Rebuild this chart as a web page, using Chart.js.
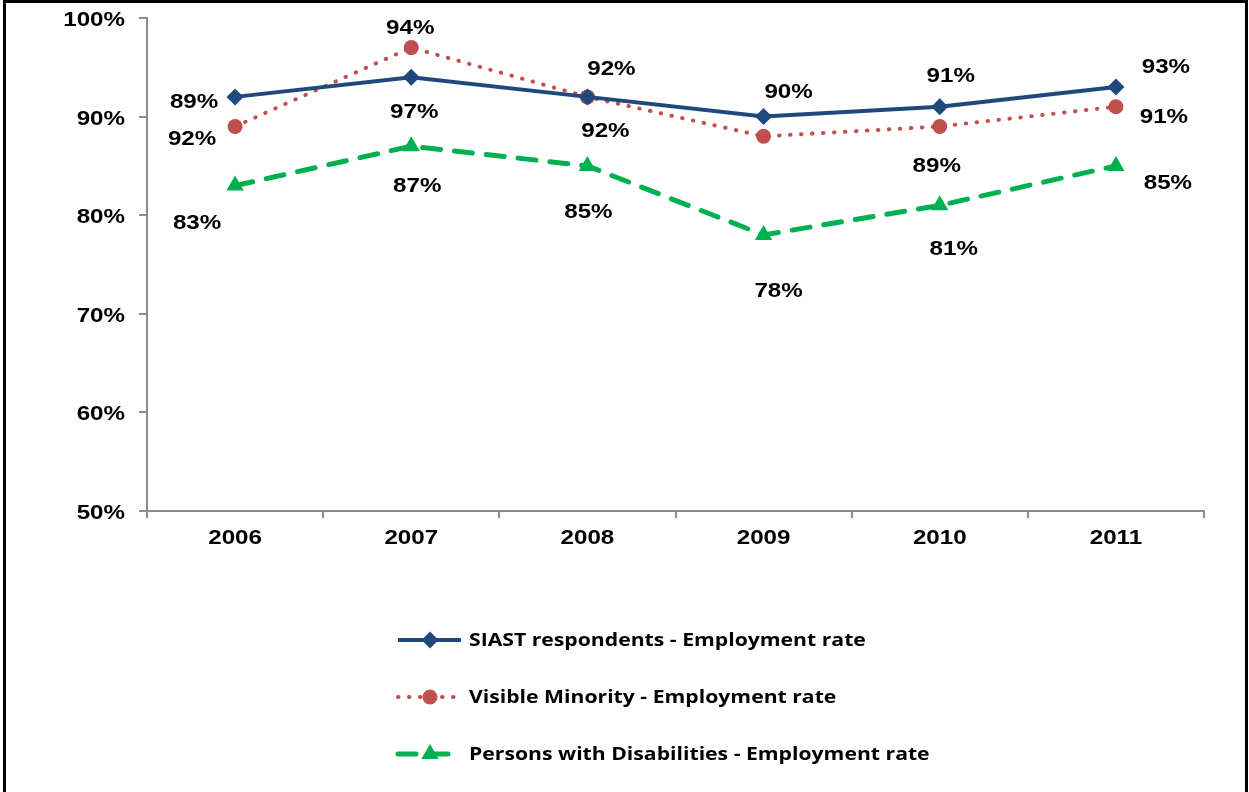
<!DOCTYPE html>
<html>
<head>
<meta charset="utf-8">
<script src="https://cdn.jsdelivr.net/npm/chart.js"></script>
<style>
  html, body { margin: 0; padding: 0; background: #fff; }
  #wrap { position: relative; width: 1249px; height: 792px; overflow: hidden; }
  #frame { position: absolute; left: 3px; top: 0; width: 1245px; height: 800px; box-sizing: border-box;
           border: 3px solid #000; border-bottom: none; pointer-events: none; }
</style>
</head>
<body>
<div id="wrap">
  <canvas id="employmentChart" width="1249" height="792"></canvas>
  <div id="frame"></div>
</div>
<script type="text/javascript">

const years = ['2006', '2007', '2008', '2009', '2010', '2011'];
const siastRate = [92, 94, 92, 90, 91, 93];
const minorityRate = [89, 97, 92, 88, 89, 91];
const disabilityRate = [83, 87, 85, 78, 81, 85];
const seriesNames = [
    'SIAST respondents - Employment rate',
    'Visible Minority - Employment rate',
    'Persons with Disabilities - Employment rate'
];

// where each value label sits relative to its point [dx, dy]; null = label not shown
const siastLabelPos = [[-43, 41], [-1, -51], [24, -29], [25, -26], [11, -32], [50, -22]];
const minorityLabelPos = [[-41, -26], [3, 63], [18, 33], null, [-3, 38], [48, 9]];
const disabilityLabelPos = [[-38, 36], [6, 38], [1, 45], [15, 55], [14, 42], [52, 16]];

const axisGray = '#8c8c8c';
const labelFont = 'bold 21px "Liberation Sans"';
const stretch = 1.15;   // text in the original is drawn a bit wide

// draws text squeezed/stretched horizontally around its anchor
function wideText(ctx, text, x, y, align, sx) {
    ctx.save();
    ctx.translate(x, y);
    ctx.scale(sx, 1);
    ctx.textAlign = align;
    ctx.textBaseline = 'alphabetic';
    ctx.fillText(text, 0, 0);
    ctx.restore();
}

// axis tick labels, value labels
const chartText = {
    id: 'chartText',
    afterDraw(chart) {
        const ctx = chart.ctx;
        ctx.save();
        ctx.font = labelFont;
        ctx.fillStyle = '#000';

        const ys = chart.scales.y;
        ys.ticks.forEach((t, i) => {
            wideText(ctx, t.label, 125, ys.getPixelForTick(i) + 8, 'right', stretch);
        });
        const xs = chart.scales.x;
        xs.ticks.forEach((t, i) => {
            wideText(ctx, years[i], xs.getPixelForTick(i), xs.top + 33, 'center', stretch);
        });

        chart.data.datasets.forEach((ds, i) => {
            const meta = chart.getDatasetMeta(i);
            meta.data.forEach((pt, j) => {
                const off = ds.labelPos[j];
                if (!off) return;
                wideText(ctx, ds.data[j] + '%', pt.x + off[0], pt.y + off[1] + 7.5, 'center', stretch);
            });
        });
        ctx.restore();
    }
};

// legend stacked in one column under the plot
const stackedLegend = {
    id: 'stackedLegend',
    afterDraw(chart) {
        const ctx = chart.ctx;
        const rowY = [640, 697, 754];
        chart.data.datasets.forEach((ds, i) => {
            const y = rowY[i];
            ctx.save();
            ctx.strokeStyle = ds.borderColor;
            ctx.lineWidth = ds.borderWidth;
            ctx.lineCap = ds.borderCapStyle || 'butt';
            ctx.setLineDash(ds.borderDash || []);
            ctx.beginPath();
            ctx.moveTo(398, y);
            ctx.lineTo(461, y);
            ctx.stroke();
            ctx.setLineDash([]);
            ctx.fillStyle = ds.pointBackgroundColor;
            Chart.helpers.drawPoint(ctx, { pointStyle: ds.pointStyle, radius: ds.pointRadius, borderWidth: 0, rotation: 0 }, 430, y);
            ctx.fillStyle = '#000';
            ctx.font = 'bold 17.5px "Open Sans"';
            wideText(ctx, ds.label, 469, y + 6, 'left', 1.21);
            ctx.restore();
        });
    }
};

const ctx = document.getElementById('employmentChart').getContext('2d');
const myChart = new Chart(ctx, {
    type: 'line',
    data: {
        labels: years,
        datasets: [{
            label: seriesNames[0],
            data: siastRate,
            labelPos: siastLabelPos,
            borderColor: '#1F497D',
            borderWidth: 4,
            pointStyle: 'rectRot',
            pointRadius: 8.5,
            pointBackgroundColor: '#1F497D',
            pointBorderWidth: 0,
            fill: false,
        }, {
            label: seriesNames[1],
            data: minorityRate,
            labelPos: minorityLabelPos,
            borderColor: '#C0504D',
            borderWidth: 4,
            borderDash: [0.5, 10.5],
            borderCapStyle: 'round',
            pointStyle: 'circle',
            pointRadius: 7.5,
            pointBackgroundColor: '#C0504D',
            pointBorderWidth: 0,
            fill: false,
        }, {
            label: seriesNames[2],
            data: disabilityRate,
            labelPos: disabilityLabelPos,
            borderColor: '#00B050',
            borderWidth: 5,
            borderDash: [18, 14],
            borderCapStyle: 'round',
            pointStyle: 'triangle',
            pointRadius: 10,
            pointBackgroundColor: '#00B050',
            pointBorderWidth: 0,
            fill: false,
        }],
    },
    options: {
        responsive: false,
        maintainAspectRatio: false,
        devicePixelRatio: 1,
        animation: false,
        layout: { padding: { left: 0, top: 18, right: 45, bottom: 241 } },
        plugins: {
            legend: { display: false },
            tooltip: { enabled: false },
        },
        scales: {
            x: {
                offset: true,
                grid: { offset: true, drawOnChartArea: false, tickLength: 7, color: axisGray, lineWidth: 2 },
                border: { color: axisGray, width: 2 },
                // labels are painted by chartText so they can be widened
                ticks: { color: 'rgba(0,0,0,0)', font: { size: 10 }, padding: 0, maxRotation: 0 },
                afterFit(scale) { scale.height = 40; },
            },
            y: {
                min: 50,
                max: 100,
                grid: { drawOnChartArea: false, tickLength: 8, color: axisGray, lineWidth: 2 },
                border: { color: axisGray, width: 2 },
                ticks: {
                    stepSize: 10,
                    color: 'rgba(0,0,0,0)',
                    font: { size: 10 },
                    padding: 0,
                    callback: v => v + '%',
                },
                afterFit(scale) { scale.width = 147; },
            },
        },
    },
    plugins: [chartText, stackedLegend],
});
</script>
</body>
</html>
